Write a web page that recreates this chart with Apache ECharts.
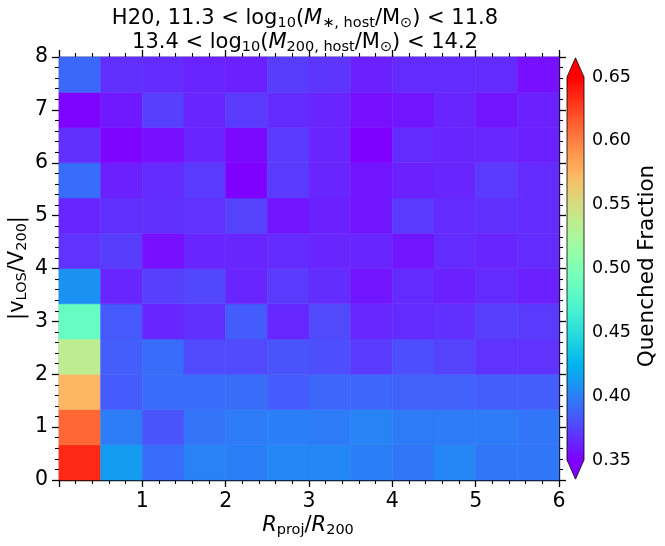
<!DOCTYPE html>
<html>
<head>
<meta charset="utf-8">
<script src="https://cdn.jsdelivr.net/npm/echarts@6/dist/echarts.min.js"></script>
<style>html,body{margin:0;padding:0;background:#fff}#chart{width:665px;height:546px}</style>
</head>
<body>
<div id="chart"></div>
<script>
// ---- data ----
const xEdges = [0, 0.5, 1, 1.5, 2, 2.5, 3, 3.5, 4, 4.5, 5, 5.5, 6];
const yEdges = [0, 0.6667, 1.3333, 2, 2.6667, 3.3333, 4, 4.6667, 5.3333, 6, 6.6667, 7.3333, 8];
// quenched fraction per cell, rows from bottom (y bin 0) to top
const qfRow0  = [0.635, 0.413, 0.392, 0.401, 0.400, 0.404, 0.404, 0.400, 0.396, 0.403, 0.396, 0.396];
const qfRow1  = [0.610, 0.399, 0.382, 0.395, 0.398, 0.400, 0.398, 0.402, 0.398, 0.398, 0.398, 0.396];
const qfRow2  = [0.574, 0.385, 0.392, 0.392, 0.392, 0.385, 0.389, 0.389, 0.387, 0.387, 0.386, 0.386];
const qfRow3  = [0.536, 0.386, 0.392, 0.378, 0.378, 0.382, 0.380, 0.372, 0.380, 0.375, 0.369, 0.369];
const qfRow4  = [0.485, 0.384, 0.364, 0.368, 0.385, 0.365, 0.378, 0.365, 0.366, 0.368, 0.374, 0.372];
const qfRow5  = [0.408, 0.364, 0.374, 0.377, 0.364, 0.372, 0.367, 0.358, 0.366, 0.362, 0.366, 0.362];
const qfRow6  = [0.369, 0.373, 0.356, 0.364, 0.364, 0.366, 0.364, 0.364, 0.358, 0.366, 0.364, 0.366];
const qfRow7  = [0.364, 0.368, 0.368, 0.369, 0.375, 0.358, 0.362, 0.358, 0.372, 0.366, 0.368, 0.366];
const qfRow8  = [0.392, 0.362, 0.366, 0.372, 0.350, 0.372, 0.364, 0.358, 0.362, 0.364, 0.372, 0.366];
const qfRow9  = [0.368, 0.352, 0.356, 0.364, 0.353, 0.372, 0.364, 0.350, 0.366, 0.364, 0.365, 0.362];
const qfRow10 = [0.351, 0.359, 0.374, 0.364, 0.372, 0.366, 0.364, 0.356, 0.358, 0.364, 0.358, 0.362];
const qfRow11 = [0.390, 0.368, 0.366, 0.363, 0.362, 0.373, 0.370, 0.362, 0.366, 0.366, 0.366, 0.356];
const qfRows = [qfRow0, qfRow1, qfRow2, qfRow3, qfRow4, qfRow5, qfRow6, qfRow7, qfRow8, qfRow9, qfRow10, qfRow11];
const xTicks = [0, 1, 2, 3, 4, 5, 6];
const yTicks = [0, 1, 2, 3, 4, 5, 6, 7, 8];
const cbarTicks = [0.35, 0.40, 0.45, 0.50, 0.55, 0.60, 0.65];
const vMin = 0.35, vMax = 0.65;

// ---- matplotlib "rainbow" colormap ----
function rainbow(t) {
  const c = v => Math.round(Math.max(0, Math.min(1, v)) * 255);
  return 'rgb(' + c(Math.abs(2 * t - 0.5)) + ',' + c(Math.sin(Math.PI * t)) + ',' + c(Math.cos(Math.PI * t / 2)) + ')';
}
const cmapStops = [];
for (let i = 0; i <= 40; i++) cmapStops.push(rainbow(i / 40));

const cells = [];
qfRows.forEach((row, i) => row.forEach((v, j) => {
  cells.push([xEdges[j], yEdges[i], xEdges[j + 1], yEdges[i + 1], v]);
}));

const FONT = 'DejaVu Sans';
const axisCommon = {
  axisLine: { show: true, onZero: false, lineStyle: { color: '#000', width: 1.3 } },
  axisTick: { show: true, inside: false, length: 7, lineStyle: { color: '#000', width: 1.3 } },
  minorTick: { show: true, splitNumber: 5, length: 4, lineStyle: { color: '#000', width: 1.1 } },
  splitLine: { show: false }
};

const chart = echarts.init(document.getElementById('chart'), null, { renderer: 'canvas' });
const subStyle = { fontFamily: FONT, fontSize: 14.5, fill: '#000', padding: [9, 0, 0, 0] };
const mainStyle = { fontFamily: FONT, fontSize: 21, fill: '#000' };
const itStyle = { fontFamily: FONT, fontSize: 21, fill: '#000', fontStyle: 'italic' };

chart.setOption({
  animation: false,
  backgroundColor: '#fff',
  grid: [
    { left: 59, right: 106, top: 57, bottom: 66 },
    { left: 567, width: 17, top: 77, bottom: 86 }
  ],
  xAxis: [
    Object.assign({ type: 'value', gridIndex: 0, position: 'bottom', min: xTicks[0], max: xTicks[xTicks.length - 1], interval: 1,
      axisLabel: { show: true, fontFamily: FONT, fontSize: 20.5, color: '#000', margin: 11,
        formatter: v => (v === 0 ? '' : String(v)) } }, axisCommon),
    Object.assign({ type: 'value', gridIndex: 0, position: 'top', min: xTicks[0], max: xTicks[xTicks.length - 1], interval: 1,
      axisLabel: { show: false } }, axisCommon),
    { type: 'value', gridIndex: 1, min: 0, max: 1, show: false }
  ],
  yAxis: [
    Object.assign({ type: 'value', gridIndex: 0, position: 'left', min: yTicks[0], max: yTicks[yTicks.length - 1], interval: 1,
      axisLabel: { show: true, fontFamily: FONT, fontSize: 20.5, color: '#000', margin: 11 } }, axisCommon),
    Object.assign({ type: 'value', gridIndex: 0, position: 'right', min: yTicks[0], max: yTicks[yTicks.length - 1], interval: 1,
      axisLabel: { show: false } }, axisCommon),
    { type: 'value', gridIndex: 1, position: 'right', min: cbarTicks[0], max: cbarTicks[cbarTicks.length - 1], interval: 0.05,
      axisLine: { show: false },
      axisTick: { show: true, length: 4, lineStyle: { color: '#000', width: 1 } },
      splitLine: { show: false },
      axisLabel: { fontFamily: FONT, fontSize: 17.5, color: '#000', margin: 8, formatter: v => v.toFixed(2) } }
  ],
  visualMap: {
    show: false, type: 'continuous', min: vMin, max: vMax, dimension: 4, seriesIndex: 0,
    inRange: { color: cmapStops }
  },
  series: [
    {
      type: 'custom', xAxisIndex: 0, yAxisIndex: 0, data: cells,
      encode: { x: [0, 2], y: [1, 3] },
      renderItem: function (params, api) {
        const p0 = api.coord([api.value(0), api.value(1)]);
        const p1 = api.coord([api.value(2), api.value(3)]);
        const col = api.visual('color');
        return { type: 'rect',
          shape: { x: p0[0], y: p1[1], width: p1[0] - p0[0], height: p0[1] - p1[1] },
          style: { fill: col, stroke: col, lineWidth: 0.6 } };
      }
    },
    {
      type: 'custom', xAxisIndex: 2, yAxisIndex: 2, data: [[0, vMin, 1, vMax]],
      encode: { x: [0, 2], y: [1, 3] },
      renderItem: function (params, api) {
        const p0 = api.coord([api.value(0), api.value(1)]);
        const p1 = api.coord([api.value(2), api.value(3)]);
        const x0 = p0[0], x1 = p1[0], yb = p0[1], yt = p1[1];
        const ext = 0.05 * (yb - yt);
        const xm = (x0 + x1) / 2;
        const stops = cmapStops.map((c, i) => ({ offset: i / (cmapStops.length - 1), color: c }));
        return { type: 'group', children: [
          { type: 'rect', shape: { x: x0, y: yt, width: x1 - x0, height: yb - yt },
            style: { fill: new echarts.graphic.LinearGradient(0, 1, 0, 0, stops) } },
          { type: 'polygon', shape: { points: [[x0, yt + 0.5], [x1, yt + 0.5], [xm, yt - ext]] }, style: { fill: rainbow(1) } },
          { type: 'polygon', shape: { points: [[x0, yb - 0.5], [x1, yb - 0.5], [xm, yb + ext]] }, style: { fill: rainbow(0) } },
          { type: 'polygon', shape: { points: [[x0, yt], [xm, yt - ext], [x1, yt], [x1, yb], [xm, yb + ext], [x0, yb]] },
            style: { fill: 'none', stroke: '#000', lineWidth: 0.8 } }
        ] };
      }
    }
  ],
  graphic: [
    { type: 'text', x: 305, y: 19, style: {
      text: '{m|H20, 11.3 < log}{s|10}{m|(}{i|M}{s|∗, host}{m|/M}{s|⊙}{m|) < 11.8}',
      align: 'center', verticalAlign: 'middle', rich: { m: mainStyle, i: itStyle, s: subStyle } } },
    { type: 'text', x: 305, y: 43, style: {
      text: '{m|13.4 < log}{s|10}{m|(}{i|M}{s|200, host}{m|/M}{s|⊙}{m|) < 14.2}',
      align: 'center', verticalAlign: 'middle', rich: { m: mainStyle, i: itStyle, s: subStyle } } },
    { type: 'text', x: 308, y: 526, style: {
      text: '{i|R}{s|proj}{m|/}{i|R}{s|200}',
      align: 'center', verticalAlign: 'middle', rich: { m: mainStyle, i: itStyle, s: subStyle } } },
    { type: 'text', x: 18, y: 268, rotation: Math.PI / 2, style: {
      text: '{m||v}{s|LOS}{m|/V}{s|200}{m||}',
      align: 'center', verticalAlign: 'middle', rich: { m: mainStyle, i: itStyle, s: subStyle } } },
    { type: 'text', x: 647, y: 266, rotation: Math.PI / 2, style: {
      text: 'Quenched Fraction', fontFamily: FONT, fontSize: 21.5, fill: '#000',
      align: 'center', verticalAlign: 'middle' } }
  ]
});
</script>
</body>
</html>
